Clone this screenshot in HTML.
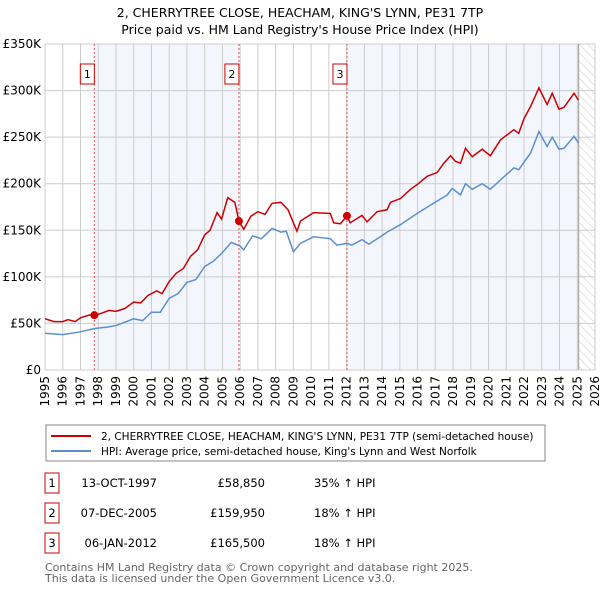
<!DOCTYPE html>
<html><head><meta charset="utf-8"><style>
body{margin:0;background:#fff;}
svg{display:block;font-family:"DejaVu Sans","Liberation Sans",sans-serif;}
</style></head><body>
<svg id="chart" width="600" height="590" viewBox="0 0 600 590">
<defs><pattern id="hatch" width="6" height="6" patternUnits="userSpaceOnUse" patternTransform="rotate(-45)"><line x1="0" y1="0" x2="0" y2="6" stroke="#ccc" stroke-width="1"/></pattern></defs>
<text x="300" y="17" text-anchor="middle" font-size="12.5">2, CHERRYTREE CLOSE, HEACHAM, KING'S LYNN, PE31 7TP</text>
<text x="300" y="34" text-anchor="middle" font-size="12.5">Price paid vs. HM Land Registry's House Price Index (HPI)</text>
<g id="plot"></g>
<g id="legend">
<rect x="46" y="425" width="499" height="36" fill="#fff" stroke="#888"/>
<line x1="51" y1="436" x2="91" y2="436" stroke="#cc0000" stroke-width="2"/>
<text x="101" y="440" font-size="10.5">2, CHERRYTREE CLOSE, HEACHAM, KING'S LYNN, PE31 7TP (semi-detached house)</text>
<line x1="51" y1="451" x2="91" y2="451" stroke="#5b8fd0" stroke-width="2"/>
<text x="101" y="455" font-size="10.5">HPI: Average price, semi-detached house, King's Lynn and West Norfolk</text>
</g>
<g id="table" font-size="11.5"></g>
<text x="45" y="571" font-size="11" fill="#666">Contains HM Land Registry data © Crown copyright and database right 2025.</text>
<text x="45" y="582" font-size="11" fill="#666">This data is licensed under the Open Government Licence v3.0.</text>
</svg>
<script>
const redYears=[1995,1995.5,1996,1996.3,1996.7,1997,1997.5,1997.78,1998.2,1998.6,1999,1999.5,2000,2000.4,2000.8,2001.3,2001.6,2002,2002.4,2002.8,2003.2,2003.6,2004,2004.3,2004.7,2004.95,2005.3,2005.7,2005.93,2006.2,2006.6,2007,2007.4,2007.8,2008.3,2008.7,2009.0,2009.2,2009.4,2010.14,2011.08,2011.27,2011.65,2012.02,2012.2,2012.87,2013.15,2013.72,2014.28,2014.47,2015.03,2015.6,2015.97,2016.54,2017.1,2017.48,2017.86,2018.14,2018.42,2018.7,2019.08,2019.64,2020.1,2020.67,2021.15,2021.43,2021.7,2022,2022.37,2022.84,2023.3,2023.59,2023.97,2024.25,2024.82,2025.06];
const redValues=[55,52,52,54,52,56,59,58.85,61,64,63,66,73,72,80,85,82,95,104,109,122,129,145,150,169,162,185,180,160,151,165,170,167,179,180,172,158,149,160,169,168,158,157,165.5,158,166,159,170,172,180,184,194,199,208,212,222,230,224,222,238,229,237,230,247,254,258,254,270,283,303,285,297,280,282,297,290];
const hpiYears=[1995,1996,1997,1997.8,1998.5,1999,2000,2000.5,2001,2001.5,2002,2002.5,2003,2003.5,2004,2004.5,2005,2005.5,2006,2006.2,2006.7,2007.2,2007.8,2008.3,2008.6,2009,2009.4,2010.14,2011.08,2011.46,2012.02,2012.3,2012.87,2013.25,2013.9,2014.28,2015.03,2015.97,2016.9,2017.67,2017.95,2018.42,2018.7,2019.08,2019.64,2020.1,2020.67,2021.43,2021.7,2022.37,2022.84,2023.3,2023.59,2023.97,2024.25,2024.82,2025.06];
const hpiValues=[39.5,38,41,44.5,46,47.7,55,53,62,62,77,82,94,97,111,117,126,137,133,129,144,141,152,148,149,127,136,143,141,134,136,134,140,135,143,148,156,168,179,188,195,188,200,194,200,194,204,217,215,233,256,240,250,237,238,251,244];
const saleLabels=["1","2","3"];
const saleYears=[1997.78,2005.93,2012.02];
const saleValues=[58.85,159.95,165.5];
const saleDates=["13-OCT-1997","07-DEC-2005","06-JAN-2012"];
const salePrices=["£58,850","£159,950","£165,500"];
const saleHpi=["35% ↑ HPI","18% ↑ HPI","18% ↑ HPI"];
const yTicks=[0,50,100,150,200,250,300,350];
const yTickLabels=["£0","£50K","£100K","£150K","£200K","£250K","£300K","£350K"];
const xTicks=[1995,1996,1997,1998,1999,2000,2001,2002,2003,2004,2005,2006,2007,2008,2009,2010,2011,2012,2013,2014,2015,2016,2017,2018,2019,2020,2021,2022,2023,2024,2025,2026];
const dataEnd=2025.08;

const L=45,R=595,T=44,B=370;
const X=y=>L+(y-1995)*(R-L)/31;
const Y=v=>B-v*(B-T)/350;
const NS="http://www.w3.org/2000/svg";
const g=document.getElementById('plot');
function mk(tag,attrs,parent){const e=document.createElementNS(NS,tag);for(const k in attrs)e.setAttribute(k,attrs[k]);(parent||g).appendChild(e);return e;}

let e;
e=mk('rect',{x:X(saleYears[0]),y:T,width:X(saleYears[1])-X(saleYears[0]),height:B-T,fill:'#eef3fc',opacity:0.7});


e=mk('rect',{x:X(saleYears[2]),y:T,width:X(dataEnd)-X(saleYears[2]),height:B-T,fill:'#eef3fc',opacity:0.7});


e=mk('rect',{x:X(dataEnd),y:T,width:R-X(dataEnd),height:B-T,fill:'url(#hatch)'});



yTicks.forEach((v,i)=>{
  e=mk('line',{x1:L,x2:R,y1:Y(v),y2:Y(v),stroke:'#ccc','stroke-width':1});
  
  
  e=mk('text',{x:L-4,y:Y(v)+4,'text-anchor':'end','font-size':12});
  e.textContent=yTickLabels[i];
  
  
});
xTicks.forEach(yr=>{
  e=mk('line',{x1:X(yr),x2:X(yr),y1:T,y2:B,stroke:'#ccc','stroke-width':1});
  
  
  e=mk('text',{x:0,y:0,'text-anchor':'end','font-size':12,transform:`translate(${X(yr)+4},${B+6}) rotate(-90)`});
  e.textContent=yr;
  
  
});
e=mk('line',{x1:X(dataEnd),x2:X(dataEnd),y1:T,y2:B,stroke:'#999','stroke-width':1});



saleYears.forEach((yr,i)=>{
  e=mk('line',{x1:X(yr),x2:X(yr),y1:T,y2:B,stroke:'#e55','stroke-width':1,'stroke-dasharray':'2,2'});
  
  
  e=mk('rect',{x:X(yr)-14,y:64,width:14,height:20,fill:'#fff',stroke:'#cc0000'});
  
  
  e=mk('text',{x:X(yr)-7,y:78,'text-anchor':'middle','font-size':11});
  e.textContent=saleLabels[i];
  
  
});

e=mk('polyline',{points:hpiYears.map((y,i)=>X(y)+','+Y(hpiValues[i])).join(' '),fill:'none',stroke:'#5b8fd0','stroke-width':1.5});


e=mk('polyline',{points:redYears.map((y,i)=>X(y)+','+Y(redValues[i])).join(' '),fill:'none',stroke:'#cc0000','stroke-width':1.5});


saleYears.forEach((yr,i)=>{
  e=mk('circle',{cx:X(yr),cy:Y(saleValues[i]),r:4,fill:'#cc0000'});
  
  
});

const tb=document.getElementById('table');
saleLabels.forEach((lab,i)=>{
  const cy=483+i*30;
  e=mk('rect',{x:45,y:cy-10,width:14,height:20,fill:'#fff',stroke:'#cc0000'},tb);
  
  
  e=mk('text',{x:52,y:cy+4,'text-anchor':'middle'},tb);e.textContent=lab;
  
  
  e=mk('text',{x:157,y:cy+4,'text-anchor':'end'},tb);e.textContent=saleDates[i];
  
  
  e=mk('text',{x:265,y:cy+4,'text-anchor':'end'},tb);e.textContent=salePrices[i];
  
  
  e=mk('text',{x:314,y:cy+4},tb);e.textContent=saleHpi[i];
  
  
});
</script>
</body></html>
